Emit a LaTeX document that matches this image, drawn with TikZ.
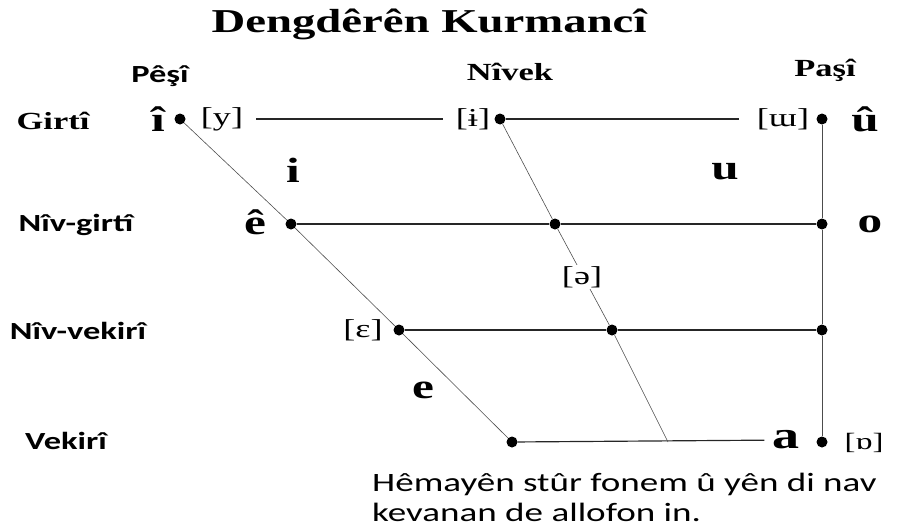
\documentclass[tikz,border=0pt]{standalone}
\usepackage{fontspec}
\setmainfont[FakeStretch=1.4]{Liberation Serif}
\newfontfamily\calfont[FakeStretch=1.4]{Carlito}

\begin{document}
\begin{tikzpicture}[x=0.03cm,y=-0.03cm,
  vdot/.style={circle,fill=black,inner sep=0pt,minimum size=0.33cm},
  ipa/.style={font=\fontsize{22}{24}\selectfont,inner sep=1pt},
  vow/.style={font=\fontsize{30}{32}\selectfont\bfseries,inner sep=1pt},
  serlab/.style={font=\fontsize{21}{24}\selectfont\bfseries},
  sanslab/.style={font=\calfont\fontsize{21}{24}\selectfont\bfseries},
  hline/.style={line width=1pt,black!85},
  dline/.style={line width=0.5pt,black!70}]
\useasboundingbox (0,0) rectangle (905,528);
% title
\node[font=\fontsize{28.5}{30}\selectfont\bfseries] (title) at (429,24) {Dengdêrên Kurmancî};
% column heads
\node[sanslab] (front) at (160,76) {Pêşî};
\node[serlab] (central) at (510,72) {Nîvek};
\node[serlab] (back) at (825,70) {Paşî};
% row heads
\node[serlab] (close) at (53,121) {Girtî};
\node[sanslab] (closemid) at (76,225) {Nîv-girtî};
\node[sanslab] (openmid) at (78,331) {Nîv-vekirî};
\node[sanslab] (open) at (66,441) {Vekirî};
% points of the chart
\node[vdot] (iDot) at (180,119) {};
\node[vdot] (barDot) at (500,119) {};
\node[vdot] (uDot) at (822,119) {};
\node[vdot] (eDot) at (291,224) {};
\node[vdot] (midDot) at (555,224) {};
\node[vdot] (oDot) at (822,224) {};
\node[vdot] (epsDot) at (399,330) {};
\node[vdot] (midlowDot) at (612,330) {};
\node[vdot] (backDot) at (822,330) {};
\node[vdot] (lowDot) at (512,442) {};
\node[vdot] (aDot) at (822,442) {};
\coordinate (schwaFoot) at (668,442);
% vowels and allophones
\node[vow] (iLab) at (158,119) {î};
\node[ipa] (yLab) at (222,119) {[y]};
\node[ipa] (barLab) at (473,119) {[ɨ]};
\node[ipa] (uLab) at (783,119) {[ɯ]};
\node[vow] (uuLab) at (865,119) {û};
\node[vow] (iShort) at (293,170) {i};
\node[vow] (uShort) at (725,172) {u};
\node[vow] (eLab) at (255,222) {ê};
\node[vow] (oLab) at (870,224) {o};
\node[ipa] (epsLab) at (363,330) {[ɛ]};
\node[vow] (eShort) at (423,390) {e};
\node[vow,font=\fontsize{33}{35}\selectfont\bfseries] (aLab) at (786,440) {a};
\node[ipa,font=\fontsize{20}{22}\selectfont] (openoLab) at (864,443) {[ɒ]};
% lines
\draw[hline,shorten <=0.36cm,shorten >=0.36cm] (yLab) -- (barLab);
\draw[hline,shorten >=0.5cm] (barDot) -- (uLab);
\draw[hline] (eDot) -- (midDot) -- (oDot);
\draw[hline] (epsDot) -- (midlowDot) -- (backDot);
\draw[hline,shorten >=0.2cm] (lowDot) -- (aLab);
\draw[dline] (iDot) -- (eDot) -- (epsDot) -- (lowDot);
\draw[dline] (barDot) -- (midDot) -- (midlowDot) -- (schwaFoot);
\draw[dline] (uDot) -- (oDot) -- (backDot) -- (aDot);
\node[ipa,fill=white] (schwaLab) at (582,277) {[ə]};
% note
\node[anchor=north west,align=left,inner sep=0pt,font=\calfont\fontsize{22.6}{25.5}\selectfont] (note) at (372,473) {Hêmayên stûr fonem û yên di nav\\kevanan de allofon in.};
\end{tikzpicture}
\end{document}
